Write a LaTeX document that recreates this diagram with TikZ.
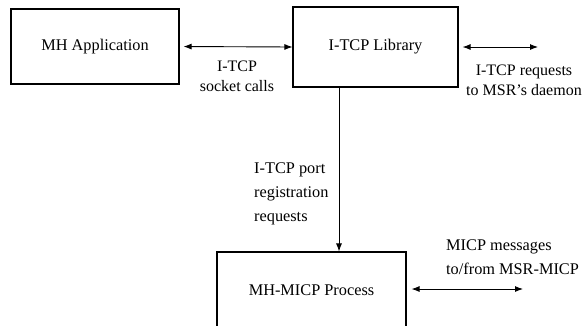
\documentclass[tikz,border=0pt]{standalone}
\usepackage{fontspec}
\setmainfont{Liberation Serif}
\usetikzlibrary{arrows.meta}
\begin{document}
\begin{tikzpicture}[x=1pt,y=-1pt,
  box/.style={draw,line width=1.1pt,rectangle,inner sep=0pt,font=\fontsize{16.3}{19}\selectfont},
  lbl/.style={inner sep=0pt,font=\fontsize{16}{20}\selectfont},
  lblwide/.style={inner sep=0pt,font=\fontsize{16.3}{24}\selectfont},
  conn/.style={line width=0.9pt},
  both/.style={conn,{Latex[length=8pt,width=6pt]}-{Latex[length=8pt,width=6pt]}}
]
\clip (0,0) rectangle (585,325);
\node[box,minimum width=168pt,minimum height=75pt] (app) at (95,46.5) {MH Application};
\node[box,minimum width=165pt,minimum height=80pt] (lib) at (375.5,47) {I-TCP Library};
\node[box,minimum width=189pt,minimum height=76pt] (micp) at (311.5,290) {MH-MICP Process};
\coordinate (libout) at (538,47);
\coordinate (micpout) at (523,289);
\coordinate (v) at (339,0);
\draw[both,shorten <=4pt] (app.east) -- (lib.west);
\draw[both,shorten <=4pt] (lib.east) -- (libout);
\draw[conn,-{Latex[length=8pt,width=6pt]}] (v |- lib.south) -- (v |- micp.north);
\draw[both,shorten <=5pt] (micp.east |- micpout) -- (micpout);
\node[lbl,align=center,anchor=base] (l1) at (237,91) {I-TCP\\socket calls};
\node[lbl,align=center,anchor=base] (l2) at (524,95) {I-TCP requests\\to MSR’s daemon};
\node[lblwide,align=left,anchor=base west] (l3) at (254,221) {I-TCP port\\registration\\requests};
\node[lblwide,align=left,anchor=base west] (l4) at (446,274) {MICP messages\\to/from MSR-MICP};
\end{tikzpicture}
\end{document}
